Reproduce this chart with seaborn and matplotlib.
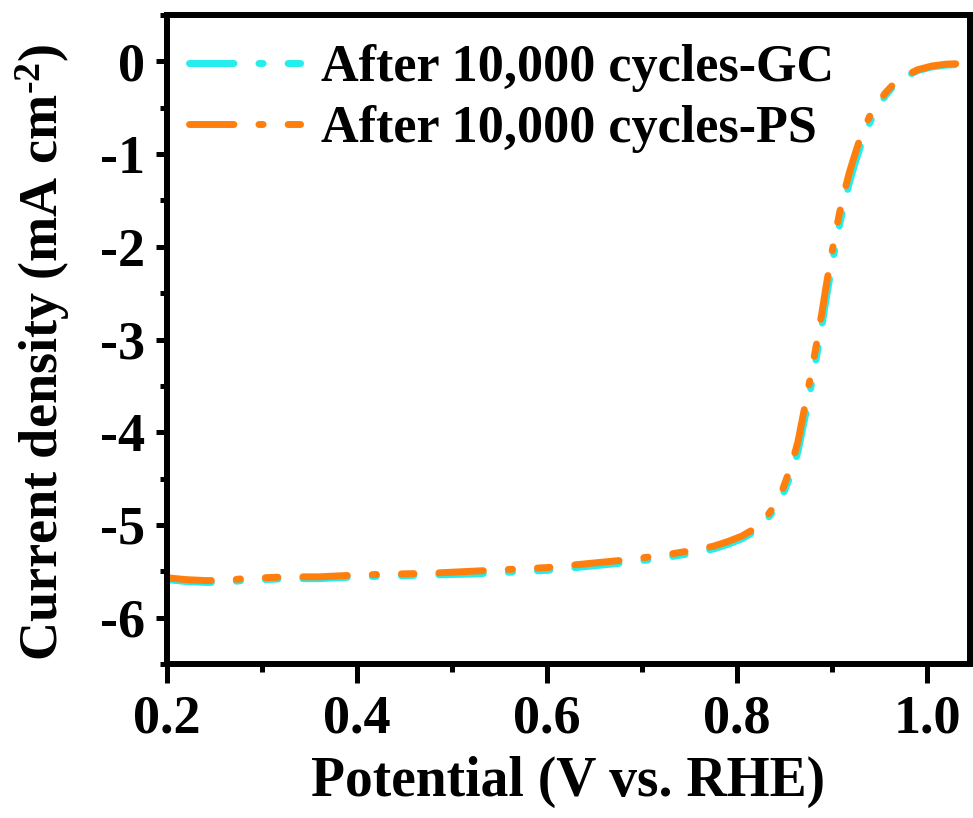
import matplotlib
matplotlib.use("Agg")
import matplotlib.pyplot as plt
import seaborn as sns
import pandas as pd

# ---- data ----
potential_gc = [0.200, 0.220, 0.240, 0.260, 0.280, 0.300, 0.330, 0.360, 0.400, 0.440,
                0.480, 0.520, 0.560, 0.600, 0.640, 0.680, 0.720, 0.750, 0.775, 0.790,
                0.805, 0.815, 0.826, 0.836, 0.847, 0.857, 0.864, 0.873, 0.879, 0.884,
                0.889, 0.894, 0.899, 0.903, 0.908, 0.913, 0.918, 0.924, 0.931, 0.940,
                0.948, 0.956, 0.965, 0.978, 0.990, 1.005, 1.020, 1.045]
current_gc = [-5.59, -5.61, -5.62, -5.62, -5.60, -5.59, -5.58, -5.58, -5.56, -5.55,
              -5.54, -5.53, -5.51, -5.49, -5.45, -5.41, -5.36, -5.31, -5.26, -5.21,
              -5.15, -5.09, -5.01, -4.88, -4.70, -4.45, -4.21, -3.76, -3.44, -3.16,
              -2.86, -2.54, -2.24, -2.01, -1.75, -1.52, -1.31, -1.10, -0.88, -0.65,
              -0.50, -0.37, -0.26, -0.16, -0.10, -0.06, -0.04, -0.03]

potential_ps = [0.200, 0.220, 0.240, 0.260, 0.280, 0.300, 0.330, 0.360, 0.400, 0.440,
                0.480, 0.520, 0.560, 0.600, 0.640, 0.680, 0.720, 0.750, 0.775, 0.790,
                0.805, 0.815, 0.826, 0.836, 0.847, 0.857, 0.864, 0.873, 0.879, 0.884,
                0.889, 0.894, 0.899, 0.903, 0.908, 0.913, 0.918, 0.924, 0.931, 0.940,
                0.948, 0.956, 0.965, 0.978, 0.990, 1.005, 1.020, 1.045]
current_ps = [-5.57, -5.59, -5.60, -5.60, -5.58, -5.57, -5.56, -5.56, -5.54, -5.53,
              -5.52, -5.50, -5.48, -5.46, -5.42, -5.38, -5.33, -5.28, -5.23, -5.18,
              -5.12, -5.06, -4.98, -4.84, -4.64, -4.36, -4.10, -3.63, -3.30, -3.02,
              -2.72, -2.40, -2.10, -1.88, -1.62, -1.40, -1.20, -1.00, -0.78, -0.58,
              -0.45, -0.34, -0.24, -0.15, -0.09, -0.05, -0.03, -0.02]

labels = ["After 10,000 cycles-GC", "After 10,000 cycles-PS"]
x_ticks = [0.2, 0.4, 0.6, 0.8, 1.0]
x_ticklabels = ["0.2", "0.4", "0.6", "0.8", "1.0"]
y_ticks = [0, -1, -2, -3, -4, -5, -6]
y_ticklabels = ["0", "-1", "-2", "-3", "-4", "-5", "-6"]

sns.set_theme(style="white")
plt.rcParams["font.family"] = ["Liberation Serif", "DejaVu Serif"]
plt.rcParams["font.weight"] = "bold"
plt.rcParams["text.color"] = "black"
plt.rcParams["axes.labelcolor"] = "black"
plt.rcParams["xtick.color"] = "black"
plt.rcParams["ytick.color"] = "black"
plt.rcParams["axes.unicode_minus"] = False
plt.rcParams["mathtext.fontset"] = "custom"
plt.rcParams["mathtext.rm"] = "Liberation Serif:bold"
plt.rcParams["mathtext.bf"] = "Liberation Serif:bold"
plt.rcParams["mathtext.it"] = "Liberation Serif:bold"

fig = plt.figure(figsize=(9.73, 8.18), dpi=100)
ax = fig.add_axes([167 / 973, 1 - 664 / 818, (970 - 167) / 973, (664 - 15) / 818])

df_gc = pd.DataFrame({"x": potential_gc, "y": current_gc})
df_ps = pd.DataFrame({"x": potential_ps, "y": current_ps})

dash = (0, (6.4, 3.6, 0.6, 3.6, 1.8, 3.6))
sns.lineplot(data=df_gc, x="x", y="y", ax=ax, color="#22EEEE", lw=5.0,
             linestyle=dash, dash_capstyle="round", label=labels[0],
             estimator=None, sort=False)
sns.lineplot(data=df_ps, x="x", y="y", ax=ax, color="#FF7F0E", lw=5.0,
             linestyle=dash, dash_capstyle="round", label=labels[1],
             estimator=None, sort=False)

ax.set_xlim(0.2, 1.045)
ax.set_ylim(-6.5, 0.5)
ax.set_xticks(x_ticks)
ax.set_xticklabels(x_ticklabels)
ax.set_yticks(y_ticks)
ax.set_yticklabels(y_ticklabels)
ax.set_xticks([0.3, 0.5, 0.7, 0.9], minor=True)
ax.set_yticks([0.5, -0.5, -1.5, -2.5, -3.5, -4.5, -5.5, -6.5], minor=True)

for sp in ax.spines.values():
    sp.set_linewidth(4.3)
    sp.set_color("black")
    sp.set_visible(True)

ax.tick_params(axis="x", which="major", direction="out", length=14, width=3.6,
               pad=8, labelsize=39, colors="black", bottom=True)
ax.tick_params(axis="x", which="minor", direction="out", length=6, width=3.6, bottom=True)
ax.tick_params(axis="y", which="major", direction="out", length=8, width=3.6,
               pad=8, labelsize=39, colors="black", left=True)
ax.tick_params(axis="y", which="minor", direction="out", length=5, width=3.6, left=True)
for t in ax.get_xticklabels() + ax.get_yticklabels():
    t.set_fontweight("bold")
    t.set_color("black")

ax.set_xlabel("Potential (V vs. RHE)", fontsize=40, fontweight="bold", labelpad=8,
              color="black")
ax.set_ylabel("Current density (mA cm$^{\u2010 2}$)", fontsize=39, fontweight="bold",
              color="black")
ax.yaxis.set_label_coords(-0.118, 0.48)
ax.grid(False)

leg = ax.legend(loc="upper left", bbox_to_anchor=(0.027, 0.955), frameon=False,
                fontsize=37.5, handlelength=2.4, handletextpad=0.15,
                labelspacing=0.25, borderaxespad=0, borderpad=0)
for t in leg.get_texts():
    t.set_fontweight("bold")
    t.set_color("black")

fig.savefig("out.png", dpi=100)
